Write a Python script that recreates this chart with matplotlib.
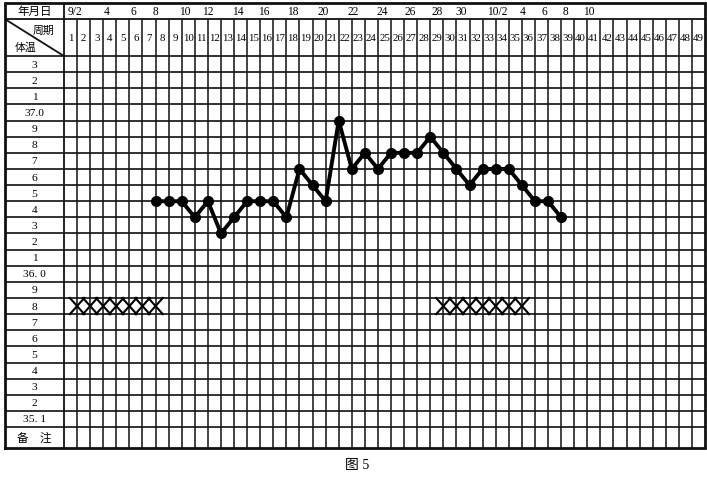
import matplotlib
matplotlib.use("Agg")
import matplotlib.pyplot as plt

plt.rcParams['font.family'] = ['Liberation Serif', 'Noto Sans CJK SC', 'DejaVu Sans']

# cycle days and basal temperature (plotted on the grid line at the right edge of each day)
days = list(range(7, 39))
temps = [36.5, 36.5, 36.5, 36.4, 36.5, 36.3, 36.4, 36.5, 36.5, 36.5,
         36.4, 36.7, 36.6, 36.5, 37.0, 36.7, 36.8, 36.7, 36.8, 36.8,
         36.8, 36.9, 36.8, 36.7, 36.6, 36.7, 36.7, 36.7, 36.6, 36.5,
         36.5, 36.4]

# menstruation days (marked with X on the 35.8 row)
menses_days = [1, 2, 3, 4, 5, 6, 7, 29, 30, 31, 32, 33, 34, 35]
menses_row = 35.8

# header labels
date_labels = ['9/2', '4', '6', '8', '10', '12', '14', '16', '18', '20', '22',
               '24', '26', '28', '30', '10/2', '4', '6', '8', '10']
date_pos = [1.3, 3.8, 5.8, 7.5, 9.7, 11.5, 13.8, 15.8, 18.0, 20.3, 22.6,
            24.8, 27.0, 29.0, 30.9, 33.6, 35.6, 37.2, 38.8, 40.6]
n_cols = 49
row_labels = ['3', '2', '1', '37.0', '9', '8', '7', '6', '5', '4', '3', '2', '1',
              '36. 0', '9', '8', '7', '6', '5', '4', '3', '2', '35. 1']
t_top = 37.3

fig = plt.figure(figsize=(7.07, 4.85), dpi=100)
ax = fig.add_axes([5 / 707, 1 - 449 / 485, 700 / 707, 445 / 485])
x0, x1 = -4.01, n_cols + 0.5
y0, y1 = 34.92, 37.679
ax.set_xlim(x0, x1)
ax.set_ylim(y0, y1)
ax.axis('off')

gc = '#111111'
y_h1 = 37.579        # line under 年月日
y_h2 = t_top + 0.05  # line under 周期
n_rows = len(row_labels)
y_bot_t = t_top - 0.1 * (n_rows - 1) - 0.05

# outer border
ax.plot([x0, x1, x1, x0, x0], [y0, y0, y1, y1, y0], color=gc, lw=2.0,
        solid_joinstyle='miter', clip_on=False)
# horizontal lines
ax.hlines([y_h1], x0, x1, color=gc, lw=1.3)
for i in range(n_rows + 1):
    ax.hlines(y_h2 - 0.1 * i, x0, x1, color=gc, lw=1.2)
# vertical lines
ax.vlines(0.5, y0, y1, color=gc, lw=1.3)
for c in range(1, n_cols):
    ax.vlines(c + 0.5, y0, y_h1, color=gc, lw=1.1)
# diagonal in the corner cell
ax.plot([x0, 0.5], [y_h1, y_h2], color=gc, lw=1.3)

# header texts
ax.text((x0 + 0.5) / 2, (y_h1 + y1) / 2, '年月日', ha='center', va='center', fontsize=8.3)
ax.text(-0.2, 37.515, '周期', ha='right', va='center', fontsize=7.8)
ax.text(-3.3, 37.41, '体温', ha='left', va='center', fontsize=7.8)
for lab, p in zip(date_labels, date_pos):
    ax.text(p, (y_h1 + y1) / 2, lab, ha='center', va='center', fontsize=8.3)
for c in range(1, n_cols + 1):
    ax.text(c, (y_h1 + y_h2) / 2, str(c), ha='center', va='center', fontsize=7.8)

# row labels
for i, lab in enumerate(row_labels):
    ax.text((x0 + 0.5) / 2, t_top - 0.1 * i, lab, ha='center', va='center', fontsize=8.2)
ax.text((x0 + 0.5) / 2, (y_bot_t + y0) / 2, '备　注', ha='center', va='center', fontsize=8.3)

# menstruation X marks
hw = 0.55
for d in menses_days:
    xc = d + 0.5
    ax.plot([xc - hw, xc + hw], [menses_row - 0.05, menses_row + 0.05], color='black', lw=1.5)
    ax.plot([xc - hw, xc + hw], [menses_row + 0.05, menses_row - 0.05], color='black', lw=1.5)

# temperature curve
ax.plot([d + 0.5 for d in days], [t - 0.05 for t in temps], color='black', lw=2.8,
        marker='o', markersize=7, zorder=5)

fig.text(357 / 707, 1 - 466 / 485, '图 5', ha='center', va='center', fontsize=10)

fig.savefig('out.png', dpi=100)
